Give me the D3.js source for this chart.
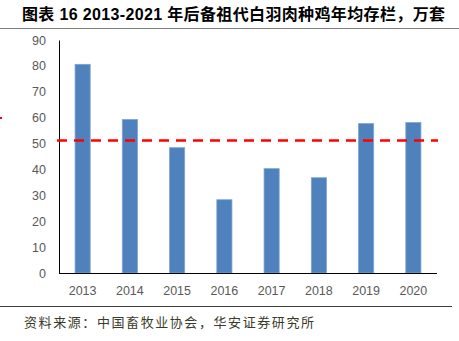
<!DOCTYPE html>
<html><head><meta charset="utf-8">
<script src="https://cdn.jsdelivr.net/npm/d3@7"></script>
<style>body{margin:0;background:#fff;}svg{display:block;}</style>
</head><body>
<script>
const categories = ["2013","2014","2015","2016","2017","2018","2019","2020"];
const values = [80.6, 59.3, 48.4, 28.3, 40.3, 36.8, 57.7, 58.1];
const average = [51.2];
const yTicks = [0,10,20,30,40,50,60,70,80,90];
const title = "图表 16 2013-2021 年后备祖代白羽肉种鸡年均存栏，万套";
const source = "资料来源：中国畜牧业协会，华安证券研究所";

(function () {
const W = 459, H = 341;
const svg = d3.select("body").append("svg").attr("width", W).attr("height", H);
const mLeft = 59, mRight = 437, mTop = 40, mBottom = 273;

const x = d3.scaleBand().domain(categories).range([mLeft, mRight]).paddingInner(0.68).paddingOuter(0.34);
const y = d3.scaleLinear().domain([0, 90]).range([mBottom, mTop]);

svg.append("text").attr("x", 22).attr("y", 20).attr("font-family", "Liberation Sans, Noto Sans CJK SC, sans-serif")
  .attr("font-size", 16).attr("font-weight", "bold").attr("fill", "#000")
  .attr("textLength", 423).attr("lengthAdjust", "spacing").text(title);
svg.append("line").attr("x1", 0).attr("x2", 459).attr("y1", 28.5).attr("y2", 28.5).attr("stroke", "#7f7f7f").attr("stroke-width", 1);

// bars
svg.selectAll("rect.bar").data(values).enter().append("rect")
  .attr("x", (d, i) => x(categories[i]))
  .attr("width", x.bandwidth())
  .attr("y", d => y(d))
  .attr("height", d => y(0) - y(d))
  .attr("fill", "#4F81BD").attr("stroke", "#7FA3D0").attr("stroke-width", 0.8);

// y axis
const yAxis = svg.append("g").attr("transform", `translate(${mLeft},0)`)
  .call(d3.axisLeft(y).tickValues(yTicks).tickSize(0).tickPadding(13));
yAxis.select(".domain").attr("stroke", "#000").attr("stroke-width", 1);
yAxis.selectAll("text").attr("font-family", "Liberation Sans, Arial, sans-serif").attr("font-size", 12.5).attr("fill", "#595959");

// x axis
const xAxis = svg.append("g").attr("transform", `translate(0,${mBottom})`)
  .call(d3.axisBottom(x).tickSize(0).tickPadding(13));
xAxis.select(".domain").attr("stroke", "#000").attr("stroke-width", 1).attr("d", `M${mLeft},0.5H${mRight}`);
xAxis.selectAll("text").attr("font-family", "Liberation Sans, Arial, sans-serif").attr("font-size", 12.5).attr("fill", "#595959");

// average line
svg.append("line").attr("x1", 57).attr("x2", 438).attr("y1", y(average[0])).attr("y2", y(average[0]))
  .attr("stroke", "#FF0000").attr("stroke-width", 2.5).attr("stroke-dasharray", "10,7");
svg.append("line").attr("x1", 0).attr("x2", 2).attr("y1", 118).attr("y2", 118).attr("stroke", "#FF0000").attr("stroke-width", 2);

svg.append("line").attr("x1", 0).attr("x2", 452).attr("y1", 306.5).attr("y2", 306.5).attr("stroke", "#404040").attr("stroke-width", 1);
svg.append("text").attr("x", 24).attr("y", 327).attr("font-family", "Noto Sans CJK SC, sans-serif")
  .attr("font-size", 13).attr("fill", "#3a3a2a").attr("textLength", 290).attr("lengthAdjust", "spacing").text(source);
})();
</script>
</body></html>
